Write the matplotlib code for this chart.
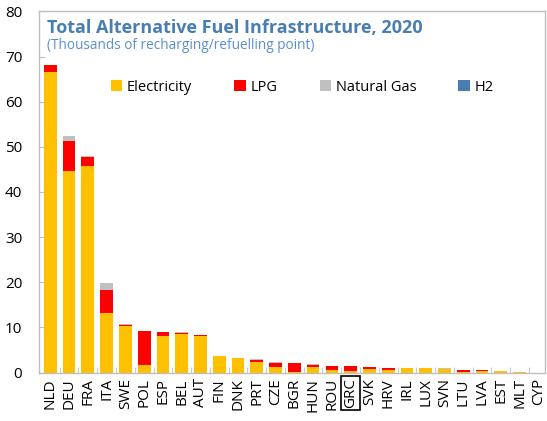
import matplotlib
matplotlib.use("Agg")
import matplotlib.pyplot as plt
import numpy as np

countries = ["NLD", "DEU", "FRA", "ITA", "SWE", "POL", "ESP", "BEL", "AUT", "FIN",
             "DNK", "PRT", "CZE", "BGR", "HUN", "ROU", "GRC", "SVK", "HRV", "IRL",
             "LUX", "SVN", "LTU", "LVA", "EST", "MLT", "CYP"]
electricity = [66.6, 44.6, 45.7, 13.3, 10.4, 1.7, 8.1, 8.5, 8.2, 3.6,
               3.2, 2.4, 1.2, 0.1, 1.2, 0.5, 0.35, 0.85, 0.6, 1.0,
               1.0, 0.8, 0.2, 0.3, 0.4, 0.05, 0.0]
lpg = [1.5, 6.7, 2.1, 5.0, 0.05, 7.5, 0.8, 0.3, 0.1, 0.05,
       0.05, 0.45, 0.85, 1.95, 0.5, 1.0, 1.1, 0.35, 0.45, 0.05,
       0.0, 0.1, 0.45, 0.25, 0.05, 0.05, 0.0]
natural_gas = [0.05, 1.1, 0.2, 1.5, 0.2, 0.05, 0.15, 0.2, 0.05, 0.05,
               0.05, 0.05, 0.3, 0.05, 0.1, 0.05, 0.05, 0.05, 0.05, 0.0,
               0.0, 0.05, 0.0, 0.0, 0.0, 0.0, 0.0]
h2 = [0.0, 0.0, 0.0, 0.0, 0.0, 0.0, 0.0, 0.0, 0.0, 0.0,
      0.0, 0.0, 0.0, 0.0, 0.0, 0.0, 0.0, 0.0, 0.0, 0.0,
      0.0, 0.0, 0.0, 0.0, 0.0, 0.0, 0.0]
highlight = "GRC"

plt.rcParams['font.family'] = ['Open Sans', 'DejaVu Sans']

fig = plt.figure(figsize=(5.47, 4.21), dpi=100)
ax = fig.add_axes([0.0713, 0.115, 0.925, 0.858])

x = np.arange(len(countries))
e = np.array(electricity); l = np.array(lpg); g = np.array(natural_gas); h = np.array(h2)
w = 0.68
ax.bar(x, e, w, color="#FFC000", label="Electricity", zorder=2)
ax.bar(x, l, w, bottom=e, color="#FF0000", label="LPG", zorder=2)
ax.bar(x, g, w, bottom=e + l, color="#C0C0C0", label="Natural Gas", zorder=2)
ax.bar(x, h, w, bottom=e + l + g, color="#4A7EB0", label="H2", zorder=2)

ax.set_xlim(-0.6, len(countries) - 0.65)
ax.set_ylim(0, 80)
ax.set_yticks(range(0, 81, 10))
ax.set_xticks(x)
ax.set_xticklabels(countries, rotation=90, fontsize=11)
ax.set_xticks(x[:-1] + 0.5, minor=True)
ax.tick_params(axis='x', which='major', length=0, pad=4)
ax.tick_params(axis='x', which='minor', length=4, direction='in', color='#BFBFBF')
ax.tick_params(axis='y', length=4, direction='in', color='#BFBFBF', labelsize=11, pad=12)

for s in ax.spines.values():
    s.set_color('#BFBFBF')
    s.set_linewidth(1.0)

for lab in ax.get_xticklabels():
    if lab.get_text() == highlight:
        lab.set_bbox(dict(facecolor='none', edgecolor='black', linewidth=1.2, pad=1.5))

ax.text(0.016, 0.955, "Total Alternative Fuel Infrastructure, 2020", transform=ax.transAxes,
        fontsize=13, fontweight='bold', color='#4A7EB0', va='center', ha='left')
ax.text(0.016, 0.906, "(Thousands of recharging/refuelling point)", transform=ax.transAxes,
        fontsize=9.8, color='#5B8ECF', va='center', ha='left')

ax.legend(loc='center', bbox_to_anchor=(0.52, 0.79), ncol=4, frameon=False,
          fontsize=10.5, handlelength=0.8, handleheight=0.8, handletextpad=0.3,
          columnspacing=2.9)

fig.savefig("out.png", dpi=100)
